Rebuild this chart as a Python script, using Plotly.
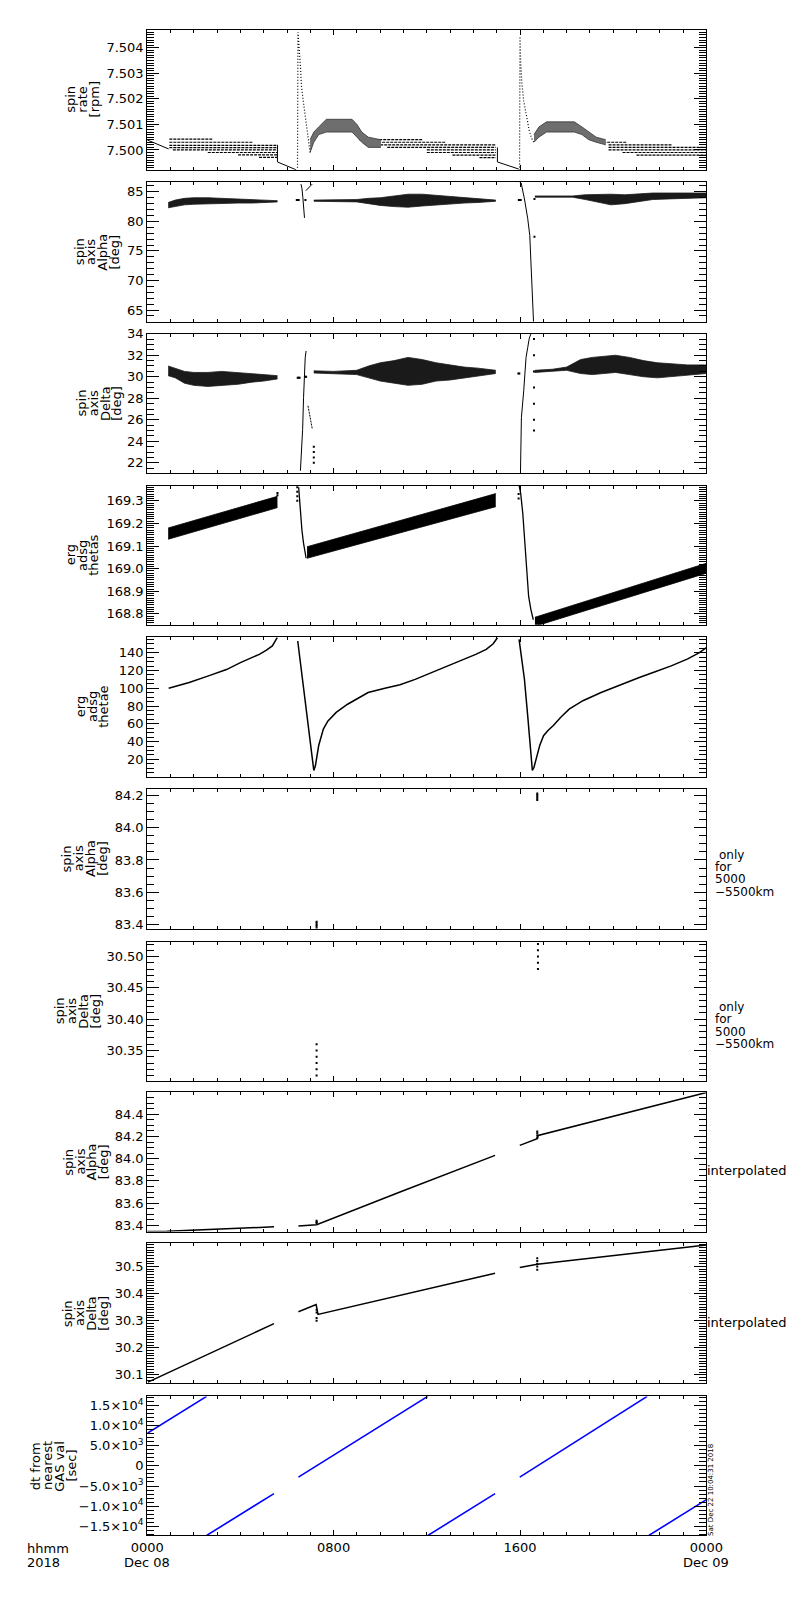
import plotly.graph_objects as go

# all times are hours after 0000 UT, 2018 Dec 08

# --- panel 1: spin rate [rpm]
rate_lead_t = [0.0, 0.92]
rate_lead_v = [7.50039, 7.50004]
# quantised plateau rows: start hour, end hour, level
rate_lvl_t0 = [0.95, 0.95, 0.95, 0.95, 1.10, 2.60, 3.90, 4.80,
               9.10, 9.40, 10.0, 10.3, 12.0, 12.0, 13.1, 14.26,
               19.4, 19.8, 19.8, 19.8, 20.4, 21.0]
rate_lvl_t1 = [2.79, 4.55, 5.59, 5.59, 5.59, 5.59, 5.59, 5.59,
               11.8, 12.8, 14.96, 14.96, 14.96, 14.96, 14.96, 14.96,
               20.6, 22.5, 24.0, 24.0, 24.0, 24.0]
rate_lvl_v = [7.50042, 7.50030, 7.50018, 7.50009, 7.50000, 7.49990, 7.49981, 7.49971,
              7.50040, 7.50030, 7.50020, 7.50010, 7.50000, 7.49990, 7.49980, 7.49970,
              7.50030, 7.50020, 7.50010, 7.50000, 7.49990, 7.49980]
rate_hump1_t = [6.99, 7.15, 7.36, 7.69, 8.79, 9.00, 9.21, 9.49, 10.03]
rate_hump1_hi = [7.5004, 7.5007, 7.5009, 7.5012, 7.5012, 7.5010, 7.5007, 7.5005, 7.5004]
rate_hump1_lo = [7.4999, 7.5003, 7.5006, 7.5007, 7.5007, 7.5005, 7.5003, 7.5001, 7.5001]
rate_hump2_t = [16.60, 16.81, 17.14, 18.33, 18.66, 18.95, 19.27, 19.68]
rate_hump2_hi = [7.5006, 7.5009, 7.5011, 7.5011, 7.5009, 7.5007, 7.5005, 7.5004]
rate_hump2_lo = [7.5003, 7.5005, 7.5007, 7.5007, 7.5006, 7.5004, 7.5003, 7.5002]
rate_drop1_t = [5.59, 5.59, 6.40]
rate_drop1_v = [7.5002, 7.49953, 7.49922]
rate_drop2_t = [15.03, 15.03, 15.95]
rate_drop2_v = [7.5001, 7.49953, 7.49925]
rate_spike1_t = [6.45, 6.47, 6.575, 6.62, 6.70, 6.78, 6.86, 6.95, 6.99]
rate_spike1_v = [7.4993, 7.5046, 7.5033, 7.5025, 7.5019, 7.5013, 7.5007, 7.5002, 7.4999]
rate_spike2_t = [15.98, 16.00, 16.03, 16.08, 16.16, 16.26, 16.33, 16.40, 16.49, 16.60]
rate_spike2_v = [7.4992, 7.50444, 7.5034, 7.50262, 7.50191, 7.50145, 7.50106, 7.50074, 7.50048, 7.50028]

# --- panel 2: spin axis Alpha [deg]
alpha_a_t = [0.90, 1.2, 1.6, 2.0, 2.6, 3.2, 3.9, 4.5, 5.0, 5.59]
alpha_a_hi = [83.2, 83.6, 83.9, 84.0, 84.0, 83.9, 83.8, 83.7, 83.6, 83.5]
alpha_a_lo = [82.3, 82.5, 82.8, 82.9, 83.0, 83.0, 83.1, 83.1, 83.2, 83.3]
alpha_b_t = [7.15, 8.0, 8.99, 9.5, 10.0, 10.6, 11.2, 11.8, 12.4, 13.0, 13.6, 14.2, 14.96]
alpha_b_hi = [83.6, 83.6, 83.7, 83.9, 84.0, 84.3, 84.6, 84.6, 84.4, 84.3, 84.0, 83.8, 83.6]
alpha_b_lo = [83.4, 83.4, 83.3, 83.0, 82.7, 82.5, 82.4, 82.6, 82.8, 83.0, 83.1, 83.2, 83.4]
alpha_c_t = [16.64, 17.4, 18.25, 18.8, 19.3, 19.9, 20.5, 21.1, 21.7, 22.4, 23.2, 24.0]
alpha_c_hi = [84.3, 84.3, 84.3, 84.5, 84.6, 84.6, 84.5, 84.7, 84.8, 84.8, 84.8, 84.8]
alpha_c_lo = [84.1, 84.1, 84.1, 83.7, 83.3, 82.8, 83.0, 83.4, 83.7, 83.8, 83.9, 84.0]
alpha_sp1_t = [6.60, 6.64, 6.68, 6.72, 6.75]
alpha_sp1_v = [86.3, 85.6, 84.0, 82.0, 80.6]
alpha_sp1b_t = [6.81, 7.08]
alpha_sp1b_v = [85.2, 86.3]
alpha_sp2_t = [15.99, 16.05, 16.19, 16.33, 16.42, 16.47, 16.52, 16.58]
alpha_sp2_v = [86.6, 86.5, 83.8, 80.5, 77.6, 73.7, 68.7, 63.0]
alpha_dot_t = [6.42, 6.46, 6.50, 6.79, 15.95, 15.99, 16.03, 16.62, 16.62]
alpha_dot_v = [83.6, 83.6, 83.6, 83.6, 83.6, 83.6, 83.6, 77.4, 83.8]

# --- panel 3: spin axis Delta [deg]
delta_a_t = [0.90, 1.2, 1.6, 2.0, 2.6, 3.2, 3.9, 4.5, 5.0, 5.59]
delta_a_hi = [31.0, 30.8, 30.5, 30.4, 30.4, 30.5, 30.4, 30.3, 30.2, 30.1]
delta_a_lo = [30.1, 29.9, 29.4, 29.2, 29.1, 29.2, 29.3, 29.5, 29.6, 29.8]
delta_b_t = [7.15, 8.0, 8.99, 9.5, 10.0, 10.6, 11.2, 11.8, 12.4, 13.0, 13.6, 14.2, 14.96]
delta_b_hi = [30.55, 30.5, 30.6, 31.0, 31.3, 31.5, 31.8, 31.6, 31.3, 31.1, 30.9, 30.8, 30.6]
delta_b_lo = [30.35, 30.3, 30.2, 29.9, 29.6, 29.4, 29.2, 29.3, 29.6, 29.7, 29.9, 30.1, 30.3]
delta_c_t = [16.64, 17.4, 18.0, 18.6, 19.1, 19.6, 20.1, 20.7, 21.3, 21.9, 22.5, 23.2, 24.0]
delta_c_hi = [30.6, 30.7, 30.9, 31.6, 31.8, 31.9, 32.0, 31.8, 31.5, 31.3, 31.2, 31.1, 31.1]
delta_c_lo = [30.4, 30.5, 30.6, 30.3, 30.2, 30.3, 30.4, 30.2, 30.0, 29.9, 30.0, 30.1, 30.3]
delta_sp1_t = [6.575, 6.645, 6.67, 6.71, 6.74, 6.78, 6.82]
delta_sp1_v = [21.26, 23.4, 25.1, 28.05, 29.9, 31.76, 32.4]
delta_sp1b_t = [6.90, 7.08]
delta_sp1b_v = [27.3, 25.2]
delta_sp2_t = [16.02, 16.06, 16.16, 16.26, 16.33, 16.40, 16.47]
delta_sp2_v = [21.1, 26.2, 28.7, 31.8, 32.7, 33.6, 34.0]
delta_dot_t = [6.46, 6.50, 6.54, 6.78, 6.82, 7.15, 7.15, 7.15, 7.15,
               15.93, 15.97, 16.60, 16.60, 16.60, 16.60, 16.60, 16.60, 16.60]
delta_dot_v = [29.9, 29.9, 29.9, 30.0, 30.0, 23.5, 23.0, 22.5, 22.0,
               30.3, 30.3, 33.5, 32.0, 30.5, 29.0, 27.5, 26.0, 25.0]

# --- panel 4: erg adsg thetas
thetas_a_t = [0.90, 5.59]
thetas_a_hi = [169.18, 169.32]
thetas_a_lo = [169.13, 169.27]
thetas_b_t = [6.86, 14.96]
thetas_b_hi = [169.097, 169.332]
thetas_b_lo = [169.046, 169.274]
thetas_c_t = [16.64, 24.0]
thetas_c_hi = [168.785, 169.024]
thetas_c_lo = [168.745, 168.980]
thetas_sp1_t = [6.50, 6.57, 6.64, 6.71, 6.78, 6.82]
thetas_sp1_v = [169.36, 169.244, 169.17, 169.112, 169.068, 169.046]
thetas_sp2_t = [15.96, 16.03, 16.12, 16.19, 16.26, 16.37, 16.47, 16.57]
thetas_sp2_v = [169.369, 169.332, 169.244, 169.127, 169.024, 168.877, 168.818, 168.774]
thetas_dot_t = [5.59, 5.59, 6.44, 6.44, 6.44, 6.44, 15.94, 15.94]
thetas_dot_v = [169.325, 169.335, 169.30, 169.32, 169.34, 169.36, 169.31, 169.33]

# --- panel 5: erg adsg thetae
thetae_a_t = [0.92, 1.8, 2.63, 3.4, 4.0, 4.5, 4.81, 5.1, 5.37, 5.58]
thetae_a_v = [100.0, 106.5, 113.9, 121.0, 128.8, 134.0, 138.1, 142.5, 147.5, 156.8]
thetae_b_t = [6.46, 6.74, 6.95, 7.08, 7.15, 7.22, 7.30, 7.36, 7.45, 7.56, 7.75, 8.11,
              8.6, 9.0, 9.48, 10.2, 10.85, 11.5, 12.22, 12.9, 13.59, 14.1, 14.55, 14.85, 15.03]
thetae_b_v = [153.1, 91.5, 46.7, 20.5, 7.5, 13.1, 25.0, 35.6, 44.0, 54.1, 63.0, 72.8,
              82.0, 88.0, 95.2, 100.0, 104.0, 110.0, 117.6, 124.5, 132.5, 138.0, 143.7, 150.0, 156.8]
thetae_c_t = [15.96, 16.19, 16.33, 16.47, 16.53, 16.60, 16.74, 16.85, 17.01, 17.2, 17.42,
              17.75, 18.11, 18.7, 19.48, 20.3, 21.12, 21.8, 22.49, 23.2, 23.7, 24.0]
thetae_c_v = [154.9, 110.1, 69.1, 24.3, 7.5, 11.2, 24.3, 36.0, 46.7, 52.5, 57.9,
              67.5, 76.5, 86.0, 95.2, 104.0, 112.0, 118.5, 125.1, 133.0, 140.0, 145.6]

# --- panel 6/7: spin axis only for 5000-5500 km
alpha5k_t = [7.27, 7.27, 7.27, 7.27, 7.27, 16.74, 16.74, 16.74, 16.74, 16.74]
alpha5k_v = [83.42, 83.41, 83.40, 83.39, 83.38, 84.21, 84.20, 84.19, 84.18, 84.17]
delta5k_t = [7.27, 7.27, 7.27, 7.27, 7.27, 7.27, 7.27, 16.77, 16.77, 16.77, 16.77, 16.77]
delta5k_v = [30.36, 30.35, 30.34, 30.33, 30.32, 30.31, 30.30, 30.52, 30.51, 30.50, 30.49, 30.48]

# --- panel 8/9: interpolated spin axis
alpha_int_a_t = [0.0, 0.85, 5.44]
alpha_int_a_v = [83.344, 83.346, 83.386]
alpha_int_b_t = [6.49, 7.27, 10.85, 14.93]
alpha_int_b_v = [83.394, 83.405, 83.70, 84.03]
alpha_int_c_t = [15.99, 16.74, 16.78, 24.0]
alpha_int_c_v = [84.12, 84.18, 84.21, 84.597]
alpha_int_dot_t = [7.27, 7.27, 7.27, 16.74, 16.74, 16.74, 16.74]
alpha_int_dot_v = [83.42, 83.43, 83.44, 84.19, 84.21, 84.23, 84.245]
delta_int_a_t = [0.03, 5.44]
delta_int_a_v = [30.073, 30.289]
delta_int_b_t = [6.49, 7.25, 7.33, 10.85, 14.93]
delta_int_b_v = [30.333, 30.359, 30.323, 30.394, 30.475]
delta_int_c_t = [15.99, 16.74, 24.0]
delta_int_c_v = [30.496, 30.508, 30.579]
delta_int_dot_t = [7.27, 7.27, 7.27, 7.27, 16.74, 16.74, 16.74, 16.74, 16.74]
delta_int_dot_v = [30.30, 30.31, 30.33, 30.34, 30.488, 30.50, 30.51, 30.52, 30.53]

# --- panel 10: dt from nearest GAS val [sec], one straight run per entry
dt_t0 = [0.0, 2.55, 6.49, 12.05, 15.99, 21.53]
dt_v0 = [8100, -17280, -2800, -17280, -2800, -17280]
dt_t1 = [2.55, 5.44, 12.04, 14.93, 21.46, 24.0]
dt_v1 = [17280, -6900, 17280, -6900, 17280, -8400]
dt_tickvals = [-15000, -10000, -5000, 0, 5000, 10000, 15000]
dt_ticktext = ["\u22121.5\u00d710<sup>4</sup>", "\u22121.0\u00d710<sup>4</sup>",
               "\u22125.0\u00d710<sup>3</sup>", "0", "5.0\u00d710<sup>3</sup>",
               "1.0\u00d710<sup>4</sup>", "1.5\u00d710<sup>4</sup>"]

# axis labels
titles = [
    ["spin", "rate", "[rpm]"],
    ["spin", "axis", "Alpha", "[deg]"],
    ["spin", "axis", "Delta", "[deg]"],
    ["erg", "adsg", "thetas"],
    ["erg", "adsg", "thetae"],
    ["spin", "axis", "Alpha", "[deg]"],
    ["spin", "axis", "Delta", "[deg]"],
    ["spin", "axis", "Alpha", "[deg]"],
    ["spin", "axis", "Delta", "[deg]"],
    ["dt from", "nearest", "GAS val", "[sec]"],
]
note_5k = ["only", "for", "5000", "\u22125500km"]
note_int = ["interpolated"]
time_ticktext = ["0000", "0800", "1600", "0000"]

# layout (pixels of the 800x1600 page)
W, H = 800, 1600
X0, X1 = 136, 720
tops = [23, 176, 329, 482, 634, 787, 941, 1093, 1245, 1399]
bots = [164, 317, 469, 622, 775, 928, 1081, 1233, 1386, 1539]
y_ranges = [[7.49922, 7.50470], [63.0, 86.7], [21.07, 34.0], [168.752, 169.367],
            [0.6, 158.0], [83.377, 84.24], [30.302, 30.524], [83.344, 84.597],
            [30.068, 30.585], [-17280, 17280]]
y_dtick = [0.001, 5, 2, 0.1, 20, 0.2, 0.05, 0.2, 0.1, 5000]
y_minor = [0.0001, 1, 0.5, 0.01, 5, 0.05, 0.01, 0.05, 0.01, 1000]
y_fmt = [".3f", "d", "d", ".1f", "d", ".1f", ".2f", ".1f", ".1f", ""]
title_last_x = [81, 102, 104, 80, 91, 89, 81, 90, 90, 57]

FONT = "DejaVu Sans"


def ax(i):
    return ("x" if i == 1 else f"x{i}"), ("y" if i == 1 else f"y{i}")


fig = go.Figure()


def line(i, t, v, width=1.0, dash=None, color="black"):
    xa, yaxis = ax(i)
    fig.add_trace(go.Scatter(x=t, y=v, mode="lines", xaxis=xa, yaxis=yaxis,
                             line=dict(color=color, width=width, dash=dash),
                             showlegend=False, hoverinfo="skip"))


def dots(i, t, v, size=2):
    xa, yaxis = ax(i)
    fig.add_trace(go.Scatter(x=t, y=v, mode="markers", xaxis=xa, yaxis=yaxis,
                             marker=dict(color="black", size=size, symbol="square"),
                             showlegend=False, hoverinfo="skip"))


def band(i, t, lo, hi, color="black", edge=None):
    xa, yaxis = ax(i)
    edge = edge or color
    fig.add_trace(go.Scatter(x=t, y=lo, mode="lines", xaxis=xa, yaxis=yaxis,
                             line=dict(color=edge, width=0.8),
                             showlegend=False, hoverinfo="skip"))
    fig.add_trace(go.Scatter(x=t, y=hi, mode="lines", xaxis=xa, yaxis=yaxis,
                             line=dict(color=edge, width=0.8), fill="tonexty",
                             fillcolor=color, showlegend=False, hoverinfo="skip"))


# panel 1
line(1, rate_lead_t, rate_lead_v)
lx, lyv = [], []
for t0, t1, v in zip(rate_lvl_t0, rate_lvl_t1, rate_lvl_v):
    lx += [t0, t1, None]
    lyv += [v, v, None]
line(1, lx, lyv, width=1.2, dash="3px,1px")
band(1, rate_hump1_t, rate_hump1_lo, rate_hump1_hi, color="#6e6e6e", edge="#333333")
band(1, rate_hump2_t, rate_hump2_lo, rate_hump2_hi, color="#6e6e6e", edge="#333333")
line(1, rate_drop1_t, rate_drop1_v)
line(1, rate_drop2_t, rate_drop2_v)
line(1, rate_spike1_t, rate_spike1_v, width=1.2, dash="1px,2px")
line(1, rate_spike2_t, rate_spike2_v, width=1.2, dash="1px,2px")

# panel 2
band(2, alpha_a_t, alpha_a_lo, alpha_a_hi, color="#1a1a1a")
band(2, alpha_b_t, alpha_b_lo, alpha_b_hi, color="#1a1a1a")
band(2, alpha_c_t, alpha_c_lo, alpha_c_hi, color="#1a1a1a")
line(2, alpha_sp1_t, alpha_sp1_v)
line(2, alpha_sp1b_t, alpha_sp1b_v)
line(2, alpha_sp2_t, alpha_sp2_v)
dots(2, alpha_dot_t, alpha_dot_v)

# panel 3
band(3, delta_a_t, delta_a_lo, delta_a_hi, color="#1a1a1a")
band(3, delta_b_t, delta_b_lo, delta_b_hi, color="#1a1a1a")
band(3, delta_c_t, delta_c_lo, delta_c_hi, color="#1a1a1a")
line(3, delta_sp1_t, delta_sp1_v)
line(3, delta_sp1b_t, delta_sp1b_v, dash="2px,1px")
line(3, delta_sp2_t, delta_sp2_v)
dots(3, delta_dot_t, delta_dot_v)

# panel 4
band(4, thetas_a_t, thetas_a_lo, thetas_a_hi)
band(4, thetas_b_t, thetas_b_lo, thetas_b_hi)
band(4, thetas_c_t, thetas_c_lo, thetas_c_hi)
line(4, thetas_sp1_t, thetas_sp1_v, width=1.3)
line(4, thetas_sp2_t, thetas_sp2_v, width=1.3)
dots(4, thetas_dot_t, thetas_dot_v)

# panel 5
line(5, thetae_a_t, thetae_a_v, width=1.5)
line(5, thetae_b_t, thetae_b_v, width=1.5)
line(5, thetae_c_t, thetae_c_v, width=1.5)

# panels 6-7
dots(6, alpha5k_t, alpha5k_v)
dots(7, delta5k_t, delta5k_v)

# panels 8-9
line(8, alpha_int_a_t, alpha_int_a_v, width=1.5)
line(8, alpha_int_b_t, alpha_int_b_v, width=1.5)
line(8, alpha_int_c_t, alpha_int_c_v, width=1.5)
dots(8, alpha_int_dot_t, alpha_int_dot_v)
line(9, delta_int_a_t, delta_int_a_v, width=1.5)
line(9, delta_int_b_t, delta_int_b_v, width=1.5)
line(9, delta_int_c_t, delta_int_c_v, width=1.5)
dots(9, delta_int_dot_t, delta_int_dot_v)

# panel 10
for t0, v0, t1, v1 in zip(dt_t0, dt_v0, dt_t1, dt_v1):
    line(10, [t0, t1], [v0, v1], width=1.6, color="#0000ff")

tick_font = dict(family=FONT, size=13, color="black")
axes = {}
for i in range(1, 11):
    k = "" if i == 1 else str(i)
    axes[f"xaxis{k}"] = dict(
        domain=[X0 / W, X1 / W], anchor=f"y{k}", range=[0, 24],
        tickmode="array", tickvals=[0, 8, 16, 24],
        ticktext=time_ticktext, showticklabels=(i == 10),
        ticks="inside", ticklen=5, tickwidth=1, tickcolor="black",
        minor=dict(ticks="inside", ticklen=3, tickwidth=1, tickcolor="black",
                   tickmode="linear", tick0=0, dtick=1, showgrid=False),
        showline=True, linecolor="black", linewidth=1, mirror="ticks",
        showgrid=False, zeroline=False, tickfont=tick_font, fixedrange=True)
    ya = dict(
        domain=[1 - bots[i - 1] / H, 1 - tops[i - 1] / H], anchor=f"x{k}",
        range=y_ranges[i - 1], ticks="inside", ticklen=12, tickwidth=1,
        tickcolor="black",
        minor=dict(ticks="inside", ticklen=7, tickwidth=1, tickcolor="black",
                   tickmode="linear", tick0=0, dtick=y_minor[i - 1], showgrid=False),
        showline=True, linecolor="black", linewidth=1, mirror="ticks",
        showgrid=False, zeroline=False, tickfont=tick_font, fixedrange=True)
    if i == 10:
        ya.update(tickmode="array", tickvals=dt_tickvals, ticktext=dt_ticktext)
    else:
        ya.update(tickmode="linear", tick0=0, dtick=y_dtick[i - 1],
                  tickformat=y_fmt[i - 1])
    axes[f"yaxis{k}"] = ya

ann = []
txt_font = dict(family=FONT, size=13, color="black")
note_font = dict(family=FONT, size=12, color="black")
for i, lines in enumerate(titles):
    yc = (tops[i] + bots[i]) / 2
    n = len(lines)
    for j, s in enumerate(lines):
        xp = title_last_x[i] - (n - 1 - j) * 12.3
        ann.append(dict(text=s, x=xp / W, y=1 - yc / H, xref="paper", yref="paper",
                        xanchor="center", yanchor="middle", textangle=-90,
                        showarrow=False, font=txt_font))

for i in (5, 6):
    yc = (tops[i] + bots[i]) / 2 - 4
    for j, s in enumerate(note_5k):
        xp = 731 if j == 0 else 727
        ann.append(dict(text=s, x=xp / W, y=1 - (yc + j * 12.4) / H, xref="paper",
                        yref="paper", xanchor="left", yanchor="middle",
                        showarrow=False, font=note_font))
for i in (7, 8):
    yc = (tops[i] + bots[i]) / 2 + 9
    ann.append(dict(text=note_int[0], x=719 / W, y=1 - yc / H, xref="paper",
                    yref="paper", xanchor="left", yanchor="middle",
                    showarrow=False, font=txt_font))

ann.append(dict(text="hhmm", x=8 / W, y=1 - 1552 / H, xref="paper", yref="paper",
                xanchor="left", yanchor="middle", showarrow=False, font=txt_font))
ann.append(dict(text="2018", x=8 / W, y=1 - 1566 / H, xref="paper", yref="paper",
                xanchor="left", yanchor="middle", showarrow=False, font=txt_font))
ann.append(dict(text="Dec 08", x=0, y=1 - 1566 / H, xref="x10", yref="paper",
                xanchor="center", yanchor="middle", showarrow=False, font=txt_font))
ann.append(dict(text="Dec 09", x=24, y=1 - 1566 / H, xref="x10", yref="paper",
                xanchor="center", yanchor="middle", showarrow=False, font=txt_font))
ann.append(dict(text="Sat Dec 22 10:04:31 2018", x=725 / W, y=1 - 1493 / H,
                xref="paper", yref="paper", xanchor="center", yanchor="middle",
                textangle=-90, showarrow=False,
                font=dict(family=FONT, size=7, color="black")))

fig.update_layout(width=W, height=H, autosize=False,
                  margin=dict(l=0, r=0, t=0, b=0, pad=0),
                  paper_bgcolor="white", plot_bgcolor="white",
                  showlegend=False, annotations=ann, **axes)

fig.write_html("out.html", config={"displayModeBar": False},
               post_script="document.body.style.margin='0';")
